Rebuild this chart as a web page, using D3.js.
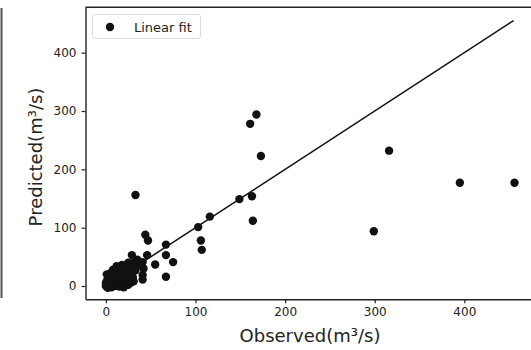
<!DOCTYPE html>
<html><head><meta charset="utf-8">
<script src="https://cdn.jsdelivr.net/npm/d3@7"></script>
<style>body{margin:0;background:#fff;} svg{display:block;font-family:"DejaVu Sans",sans-serif;}</style>
</head><body>
<svg id="c" width="531" height="350"></svg>
<script>
const observed = [33,168,161,173,316,395,456,299,149,163,164,116,103,106,107,67,67,75,67,55,44,47,46,41,41,41,29,30,18,42,
  0,1,2,0,3,1,2,4,5,3,1,6,7,8,9,10,10,11,12,13,14,15,16,17,18,19,20,21,22,23,24,25,26,27,28,29,12,8,5,30,31,33,35,37,20,15,6,2,25,3,4,7];
const predicted = [156,294,278,223,232,177,177,94,149,154,112,119,101,78,62,71,53,41,16,37,88,78,53,41,19,11,53,39,36,30,
  0,2,1,5,0,8,12,4,1,17,20,8,3,12,6,0,18,25,10,3,30,14,6,22,1,12,26,5,18,30,9,2,14,22,6,32,34,28,22,15,8,27,45,36,-2,-1,-2,-3,40,5,10,15];
const xTicks = [0,100,200,300,400];
const yTicks = [0,100,200,300,400];
const fitLine = [0,455];
const legendLabel = "Linear fit";

const svg = d3.select("#c");
const L=85.5, R=534, T=7.3, B=299.3;
const x = d3.scaleLinear().domain([-22.75,477.75]).range([L,R]);
const y = d3.scaleLinear().domain([-22.75,477.75]).range([B,T]);

// left stray border from neighbouring panel
svg.append("line").attr("x1",1.5).attr("x2",1.5).attr("y1",8).attr("y2",298)
  .attr("stroke","#555").attr("stroke-width",2);

const g = svg.append("g");
g.append("line").attr("x1",L).attr("x2",R).attr("y1",T).attr("y2",T).attr("stroke","#222").attr("stroke-width",1.4);

const xa = svg.append("g").attr("transform",`translate(0,${B})`)
  .call(d3.axisBottom(x).tickValues(xTicks).tickSizeInner(4).tickSizeOuter(0).tickPadding(4).tickFormat(d3.format("d")));
const ya = svg.append("g").attr("transform",`translate(${L},0)`)
  .call(d3.axisLeft(y).tickValues(yTicks).tickSizeInner(4).tickSizeOuter(0).tickPadding(5).tickFormat(d3.format("d")));
[xa,ya].forEach(a=>{
  a.selectAll("path").attr("stroke","#222").attr("stroke-width",1.4);
  a.selectAll("line").attr("stroke","#222").attr("stroke-width",1.2);
  a.selectAll("text").attr("font-size",12).attr("fill","#222").attr("font-family","DejaVu Sans, sans-serif");
});

// fit line
svg.append("line").attr("x1",x(fitLine[0])).attr("y1",y(fitLine[0]))
  .attr("x2",x(fitLine[1])).attr("y2",y(fitLine[1]))
  .attr("stroke","#111").attr("stroke-width",1.5);

// points
svg.append("g").selectAll("circle").data(observed.map((o,i)=>[o,predicted[i]])).join("circle")
  .attr("cx",d=>x(d[0])).attr("cy",d=>y(d[1])).attr("r",4.2).attr("fill","#111");

// legend
const lg = svg.append("g");
lg.append("rect").attr("x",92.5).attr("y",14.5).attr("width",108).attr("height",24).attr("rx",2.5)
  .attr("fill","#fff").attr("stroke","#ddd").attr("stroke-width",1);
lg.append("circle").attr("cx",110).attr("cy",27).attr("r",4.2).attr("fill","#111");
lg.append("text").attr("x",134).attr("y",31.5).attr("font-size",13).attr("fill","#222").text(legendLabel);

// axis labels
svg.append("text").attr("x",310).attr("y",342).attr("text-anchor","middle").attr("font-size",18).attr("fill","#222")
  .text("Observed(m³/s)");
svg.append("text").attr("transform","translate(42,157) rotate(-90)").attr("text-anchor","middle").attr("font-size",18).attr("fill","#222")
  .text("Predicted(m³/s)");
</script>
</body></html>
